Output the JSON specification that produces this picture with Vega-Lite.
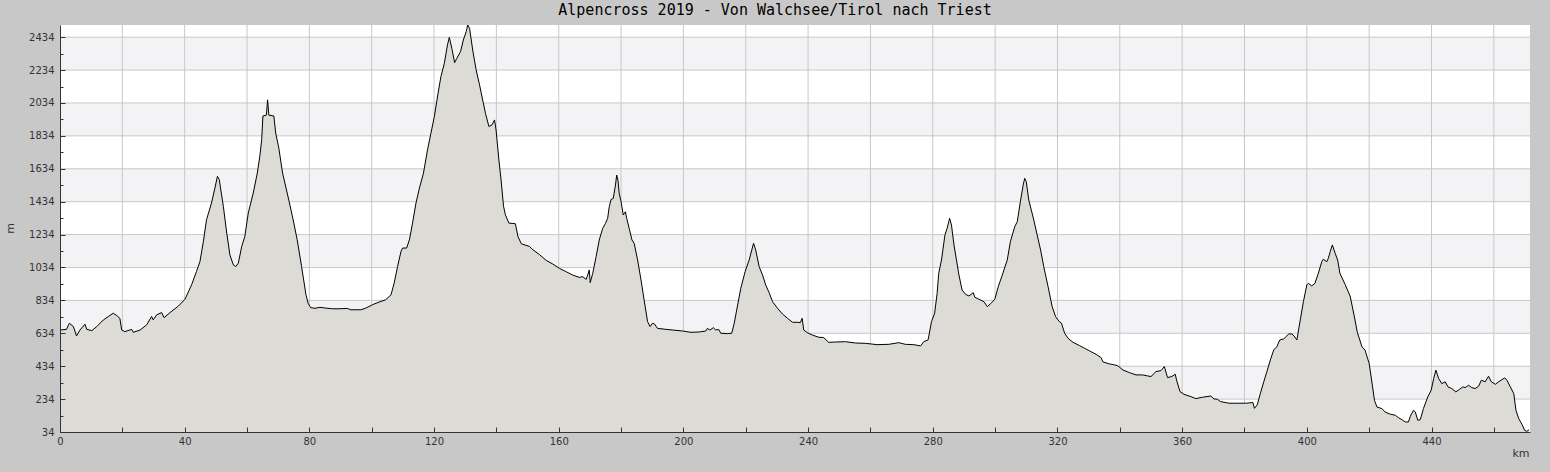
{
  "$schema": "https://vega.github.io/schema/vega-lite/v6.json",
  "width": 1470,
  "height": 407,
  "autosize": {"type": "none"},
  "padding": {"left": 60, "top": 25, "right": 20, "bottom": 40},
  "background": "#c8c8c8",
  "title": {
    "text": "Alpencross 2019 - Von Walchsee/Tirol nach Triest",
    "font": "DejaVu Sans Mono",
    "fontSize": 15,
    "fontWeight": "normal",
    "color": "#000",
    "offset": 5,
    "dx": -20
  },
  "config": {
    "view": {"fill": "white", "stroke": null},
    "axis": {
      "labelFont": "DejaVu Sans",
      "labelFontSize": 10,
      "labelColor": "#333",
      "labelOverlap": false,
      "labelFlush": false,
      "titleFont": "DejaVu Sans",
      "titleFontSize": 11,
      "titleFontWeight": "normal",
      "titleColor": "#333",
      "domainColor": "#333",
      "tickColor": "#333"
    }
  },
  "datasets": {
    "bands": [
      {"lo": 234, "hi": 434}, {"lo": 634, "hi": 834}, {"lo": 1034, "hi": 1234},
      {"lo": 1434, "hi": 1634}, {"lo": 1834, "hi": 2034}, {"lo": 2234, "hi": 2434}
    ],
    "vgrid": [
      {"km": 20}, {"km": 40}, {"km": 60}, {"km": 80}, {"km": 100}, {"km": 120},
      {"km": 140}, {"km": 160}, {"km": 180}, {"km": 200}, {"km": 220}, {"km": 240},
      {"km": 260}, {"km": 280}, {"km": 300}, {"km": 320}, {"km": 340}, {"km": 360},
      {"km": 380}, {"km": 400}, {"km": 420}, {"km": 440}, {"km": 460}
    ],
    "hgrid": [
      {"m": 234}, {"m": 434}, {"m": 634}, {"m": 834}, {"m": 1034}, {"m": 1234},
      {"m": 1434}, {"m": 1634}, {"m": 1834}, {"m": 2034}, {"m": 2234}, {"m": 2434}
    ],
    "profile": [
      {"km": 0, "m": 654}, {"km": 2.1, "m": 658}, {"km": 3, "m": 695}, {"km": 4.3, "m": 675},
      {"km": 5.3, "m": 618}, {"km": 6.4, "m": 654}, {"km": 8, "m": 689}, {"km": 8.6, "m": 658},
      {"km": 10.2, "m": 650}, {"km": 11.8, "m": 675}, {"km": 13.9, "m": 715}, {"km": 15.5, "m": 736},
      {"km": 17.1, "m": 756}, {"km": 18.2, "m": 742}, {"km": 19.2, "m": 725}, {"km": 19.8, "m": 654},
      {"km": 20.8, "m": 644}, {"km": 23, "m": 658}, {"km": 23.5, "m": 640}, {"km": 25.7, "m": 654},
      {"km": 27.8, "m": 685}, {"km": 29.4, "m": 736}, {"km": 29.9, "m": 715}, {"km": 31, "m": 746},
      {"km": 32.6, "m": 760}, {"km": 33.4, "m": 729}, {"km": 35.3, "m": 760}, {"km": 38, "m": 800},
      {"km": 40.1, "m": 841}, {"km": 42.2, "m": 928}, {"km": 43.8, "m": 1010}, {"km": 44.9, "m": 1070},
      {"km": 46, "m": 1192}, {"km": 47, "m": 1324}, {"km": 48.6, "m": 1426}, {"km": 49.7, "m": 1517},
      {"km": 50.5, "m": 1588}, {"km": 51.1, "m": 1568}, {"km": 51.5, "m": 1517}, {"km": 52.4, "m": 1406},
      {"km": 53.5, "m": 1243}, {"km": 54.5, "m": 1111}, {"km": 55.6, "m": 1050}, {"km": 56.4, "m": 1040},
      {"km": 57.2, "m": 1060}, {"km": 58.3, "m": 1162}, {"km": 59.3, "m": 1223}, {"km": 60.4, "m": 1365},
      {"km": 62, "m": 1487}, {"km": 63.3, "m": 1608}, {"km": 64.1, "m": 1710}, {"km": 64.7, "m": 1811},
      {"km": 65.1, "m": 1955}, {"km": 66.2, "m": 1960}, {"km": 66.6, "m": 2053}, {"km": 67, "m": 1960},
      {"km": 68.6, "m": 1955}, {"km": 69.2, "m": 1852}, {"km": 70.2, "m": 1760}, {"km": 71.4, "m": 1609},
      {"km": 73.5, "m": 1436}, {"km": 74.8, "m": 1324}, {"km": 76.1, "m": 1202}, {"km": 77.5, "m": 1040},
      {"km": 78.9, "m": 870}, {"km": 79.6, "m": 817}, {"km": 80.4, "m": 790}, {"km": 81.8, "m": 786},
      {"km": 83.4, "m": 792}, {"km": 85.3, "m": 787}, {"km": 87.4, "m": 783}, {"km": 89.5, "m": 783},
      {"km": 92.2, "m": 785}, {"km": 93.3, "m": 777}, {"km": 96.5, "m": 777}, {"km": 98.1, "m": 787},
      {"km": 100.3, "m": 808}, {"km": 102.4, "m": 824}, {"km": 104.5, "m": 838}, {"km": 106.2, "m": 868},
      {"km": 107.2, "m": 939}, {"km": 108.3, "m": 1040}, {"km": 109.4, "m": 1132}, {"km": 109.9, "m": 1152},
      {"km": 111.2, "m": 1152}, {"km": 112.1, "m": 1202}, {"km": 113.1, "m": 1304}, {"km": 114.2, "m": 1425},
      {"km": 115.3, "m": 1516}, {"km": 116.6, "m": 1607}, {"km": 117.9, "m": 1749}, {"km": 119, "m": 1850},
      {"km": 120.1, "m": 1951}, {"km": 121.2, "m": 2083}, {"km": 122.2, "m": 2194}, {"km": 123.3, "m": 2275},
      {"km": 124.3, "m": 2386}, {"km": 124.9, "m": 2433}, {"km": 125.7, "m": 2366}, {"km": 126.6, "m": 2279},
      {"km": 127.3, "m": 2305}, {"km": 128.5, "m": 2346}, {"km": 129.4, "m": 2417}, {"km": 130.3, "m": 2467},
      {"km": 130.8, "m": 2508}, {"km": 131.4, "m": 2488}, {"km": 132.4, "m": 2356}, {"km": 133.5, "m": 2235},
      {"km": 134.6, "m": 2144}, {"km": 135.6, "m": 2052}, {"km": 136.5, "m": 1971}, {"km": 137.6, "m": 1891},
      {"km": 138.6, "m": 1901}, {"km": 139.4, "m": 1931}, {"km": 139.9, "m": 1870}, {"km": 140.8, "m": 1688},
      {"km": 141.5, "m": 1567}, {"km": 142.3, "m": 1405}, {"km": 142.9, "m": 1354}, {"km": 144, "m": 1304},
      {"km": 146.1, "m": 1300}, {"km": 146.9, "m": 1223}, {"km": 148, "m": 1178}, {"km": 150.6, "m": 1162},
      {"km": 151.7, "m": 1142}, {"km": 153.9, "m": 1111}, {"km": 156, "m": 1077}, {"km": 158.1, "m": 1055},
      {"km": 160.2, "m": 1029}, {"km": 162.3, "m": 1009}, {"km": 164.5, "m": 988}, {"km": 166.6, "m": 974},
      {"km": 167.7, "m": 978}, {"km": 168.8, "m": 962}, {"km": 169.3, "m": 988}, {"km": 169.8, "m": 1019},
      {"km": 170.1, "m": 942}, {"km": 170.9, "m": 998}, {"km": 172, "m": 1100}, {"km": 173, "m": 1201},
      {"km": 174.1, "m": 1272}, {"km": 175, "m": 1302}, {"km": 175.7, "m": 1333}, {"km": 176.2, "m": 1403},
      {"km": 176.8, "m": 1448}, {"km": 177.5, "m": 1454}, {"km": 178.2, "m": 1535}, {"km": 178.6, "m": 1596},
      {"km": 179, "m": 1565}, {"km": 179.4, "m": 1485}, {"km": 180, "m": 1434}, {"km": 180.7, "m": 1353},
      {"km": 181.4, "m": 1373}, {"km": 181.8, "m": 1333}, {"km": 182.6, "m": 1272}, {"km": 183.5, "m": 1201},
      {"km": 184.2, "m": 1181}, {"km": 185.3, "m": 1080}, {"km": 186.4, "m": 958}, {"km": 187.4, "m": 836},
      {"km": 188.5, "m": 705}, {"km": 189.3, "m": 675}, {"km": 190.1, "m": 695}, {"km": 190.7, "m": 691},
      {"km": 191.7, "m": 664}, {"km": 194.4, "m": 658}, {"km": 196.5, "m": 654}, {"km": 199.7, "m": 648},
      {"km": 202.4, "m": 640}, {"km": 205.1, "m": 642}, {"km": 207.2, "m": 648}, {"km": 207.7, "m": 664},
      {"km": 208.5, "m": 654}, {"km": 209.6, "m": 668}, {"km": 210.4, "m": 654}, {"km": 211.3, "m": 658},
      {"km": 212, "m": 634}, {"km": 214.1, "m": 632}, {"km": 215.5, "m": 634}, {"km": 216.3, "m": 695},
      {"km": 217.4, "m": 806}, {"km": 218.4, "m": 907}, {"km": 219.8, "m": 1009}, {"km": 221.1, "m": 1080},
      {"km": 222.5, "m": 1181}, {"km": 223.2, "m": 1140}, {"km": 224.3, "m": 1039}, {"km": 225.4, "m": 988},
      {"km": 226.4, "m": 928}, {"km": 227.5, "m": 881}, {"km": 228.6, "m": 826}, {"km": 230.2, "m": 786},
      {"km": 231.8, "m": 751}, {"km": 233.4, "m": 725}, {"km": 235, "m": 701}, {"km": 236.5, "m": 701},
      {"km": 237.5, "m": 699}, {"km": 238.1, "m": 725}, {"km": 238.6, "m": 654}, {"km": 239.7, "m": 638},
      {"km": 241.3, "m": 624}, {"km": 243.4, "m": 610}, {"km": 245, "m": 608}, {"km": 246.6, "m": 579},
      {"km": 248.8, "m": 581}, {"km": 252, "m": 583}, {"km": 255.2, "m": 575}, {"km": 258.4, "m": 573},
      {"km": 262.1, "m": 565}, {"km": 265.9, "m": 567}, {"km": 269.1, "m": 577}, {"km": 271.2, "m": 567},
      {"km": 273.9, "m": 565}, {"km": 276.1, "m": 557}, {"km": 277.1, "m": 583}, {"km": 278.5, "m": 594},
      {"km": 279.6, "m": 705}, {"km": 280.6, "m": 756}, {"km": 281.4, "m": 877}, {"km": 281.9, "m": 998},
      {"km": 282.8, "m": 1080}, {"km": 283.9, "m": 1231}, {"km": 284.6, "m": 1272}, {"km": 285.4, "m": 1333},
      {"km": 286, "m": 1292}, {"km": 286.8, "m": 1171}, {"km": 287.6, "m": 1080}, {"km": 288.4, "m": 988},
      {"km": 289.4, "m": 897}, {"km": 290.5, "m": 871}, {"km": 291.6, "m": 861}, {"km": 293, "m": 881},
      {"km": 293.5, "m": 853}, {"km": 294.8, "m": 841}, {"km": 296.4, "m": 826}, {"km": 297.5, "m": 796},
      {"km": 298.9, "m": 820}, {"km": 299.9, "m": 841}, {"km": 301, "m": 917}, {"km": 302.3, "m": 988},
      {"km": 303.9, "m": 1080}, {"km": 304.9, "m": 1191}, {"km": 306.3, "m": 1282}, {"km": 307.1, "m": 1312},
      {"km": 308.1, "m": 1434}, {"km": 309, "m": 1535}, {"km": 309.5, "m": 1576}, {"km": 310, "m": 1555},
      {"km": 310.8, "m": 1444}, {"km": 312.4, "m": 1323}, {"km": 313.5, "m": 1231}, {"km": 314.6, "m": 1140},
      {"km": 315.6, "m": 1039}, {"km": 317, "m": 917}, {"km": 318.3, "m": 796}, {"km": 319.4, "m": 735},
      {"km": 320.6, "m": 705}, {"km": 321.3, "m": 695}, {"km": 322.3, "m": 634}, {"km": 323.4, "m": 604},
      {"km": 325, "m": 579}, {"km": 327.1, "m": 559}, {"km": 328.7, "m": 543}, {"km": 330.3, "m": 527},
      {"km": 332.4, "m": 506}, {"km": 334, "m": 486}, {"km": 334.6, "m": 460}, {"km": 336.7, "m": 448},
      {"km": 338.3, "m": 442}, {"km": 339.4, "m": 436}, {"km": 341, "m": 411}, {"km": 343.1, "m": 395},
      {"km": 345.2, "m": 381}, {"km": 347.3, "m": 381}, {"km": 348.9, "m": 375}, {"km": 350, "m": 371},
      {"km": 351.6, "m": 401}, {"km": 353.2, "m": 407}, {"km": 354.3, "m": 432}, {"km": 355.3, "m": 365},
      {"km": 356.7, "m": 371}, {"km": 357.8, "m": 385}, {"km": 358.2, "m": 350}, {"km": 359.3, "m": 280},
      {"km": 360.6, "m": 263}, {"km": 362.8, "m": 249}, {"km": 364.4, "m": 237}, {"km": 366.5, "m": 245},
      {"km": 369.2, "m": 253}, {"km": 370.2, "m": 235}, {"km": 371.3, "m": 233}, {"km": 372.3, "m": 219},
      {"km": 375, "m": 209}, {"km": 378.3, "m": 209}, {"km": 380.4, "m": 209}, {"km": 382.7, "m": 213},
      {"km": 383.2, "m": 178}, {"km": 384.1, "m": 199}, {"km": 385.1, "m": 269}, {"km": 386.2, "m": 340},
      {"km": 387.2, "m": 401}, {"km": 388.3, "m": 472}, {"km": 389.4, "m": 533}, {"km": 390.4, "m": 553},
      {"km": 391.3, "m": 593}, {"km": 392.6, "m": 600}, {"km": 394.2, "m": 630}, {"km": 395.2, "m": 630},
      {"km": 395.9, "m": 618}, {"km": 396.8, "m": 593}, {"km": 397.9, "m": 715}, {"km": 398.9, "m": 826},
      {"km": 400, "m": 928}, {"km": 400.5, "m": 938}, {"km": 401.6, "m": 922}, {"km": 402.6, "m": 938},
      {"km": 403.7, "m": 999}, {"km": 404.8, "m": 1069}, {"km": 405.3, "m": 1084}, {"km": 406.4, "m": 1069},
      {"km": 406.9, "m": 1090}, {"km": 407.5, "m": 1130}, {"km": 408.2, "m": 1171}, {"km": 409.1, "m": 1120},
      {"km": 409.9, "m": 1079}, {"km": 410.6, "m": 1000}, {"km": 412.3, "m": 930}, {"km": 413.9, "m": 860},
      {"km": 415.2, "m": 740}, {"km": 416.2, "m": 640}, {"km": 417.7, "m": 552}, {"km": 418.7, "m": 531},
      {"km": 420, "m": 450}, {"km": 421.1, "m": 308}, {"km": 421.7, "m": 227}, {"km": 422.5, "m": 186},
      {"km": 424.1, "m": 176}, {"km": 425.1, "m": 156}, {"km": 426.8, "m": 142}, {"km": 428.4, "m": 136},
      {"km": 429.4, "m": 121}, {"km": 430.5, "m": 109}, {"km": 431.6, "m": 95}, {"km": 432.6, "m": 95},
      {"km": 433.2, "m": 129}, {"km": 434.2, "m": 166}, {"km": 434.8, "m": 156}, {"km": 435.6, "m": 105},
      {"km": 436.4, "m": 109}, {"km": 437.4, "m": 176}, {"km": 438.8, "m": 247}, {"km": 439.9, "m": 288},
      {"km": 440.7, "m": 359}, {"km": 441.4, "m": 410}, {"km": 442.3, "m": 359}, {"km": 443.3, "m": 328},
      {"km": 444.4, "m": 339}, {"km": 445.3, "m": 308}, {"km": 446.5, "m": 298}, {"km": 447.8, "m": 278},
      {"km": 448.9, "m": 292}, {"km": 450, "m": 308}, {"km": 450.8, "m": 304}, {"km": 451.9, "m": 318},
      {"km": 452.9, "m": 304}, {"km": 454, "m": 298}, {"km": 455.1, "m": 312}, {"km": 456, "m": 349},
      {"km": 457.2, "m": 339}, {"km": 458.3, "m": 373}, {"km": 459.2, "m": 339}, {"km": 460.5, "m": 324},
      {"km": 461.5, "m": 339}, {"km": 463.5, "m": 363}, {"km": 464.2, "m": 349}, {"km": 465.3, "m": 308},
      {"km": 466.4, "m": 267}, {"km": 467.1, "m": 166}, {"km": 468, "m": 115}, {"km": 469, "m": 81},
      {"km": 469.9, "m": 44}, {"km": 470.6, "m": 38}, {"km": 471.3, "m": 48}
    ]
  },
  "resolve": {"axis": {"y": "independent"}},
  "layer": [
    {
      "data": {"name": "bands"},
      "mark": {"type": "rect", "color": "#f3f2f5"},
      "encoding": {
        "y": {"field": "lo", "type": "quantitative", "axis": null},
        "y2": {"field": "hi"}
      }
    },
    {
      "data": {"name": "vgrid"},
      "mark": {"type": "rule", "color": "#c8c8c8", "strokeWidth": 1},
      "encoding": {
        "x": {"field": "km", "type": "quantitative", "title": "km"}
      }
    },
    {
      "data": {"name": "hgrid"},
      "mark": {"type": "rule", "color": "#c8c8c8", "strokeWidth": 1},
      "encoding": {
        "y": {
          "field": "m",
          "type": "quantitative",
          "axis": {
            "orient": "left",
            "values": [134, 334, 534, 734, 934, 1134, 1334, 1534, 1734, 1934, 2134, 2334],
            "labels": false,
            "domain": false,
            "grid": false,
            "tickSize": -3,
            "title": null,
            "zindex": 1
          }
        }
      }
    },
    {
      "data": {"name": "profile"},
      "mark": {
        "type": "area",
        "color": "#dcdbd5",
        "opacity": 1,
        "fillOpacity": 1,
        "line": {"color": "#000", "strokeWidth": 1}
      },
      "encoding": {
        "x": {
          "field": "km",
          "type": "quantitative",
          "title": "km",
          "scale": {"domain": [0, 471.6], "nice": false, "zero": false},
          "axis": {
            "values": [0, 10, 20, 30, 40, 50, 60, 70, 80, 90, 100, 110, 120, 130, 140, 150, 160, 170, 180, 190, 200, 210, 220, 230, 240, 250, 260, 270, 280, 290, 300, 310, 320, 330, 340, 350, 360, 370, 380, 390, 400, 410, 420, 430, 440, 450, 460],
            "format": "d",
            "labelExpr": "datum.value % 40 === 0 ? datum.label : ''",
            "grid": false,
            "tickSize": -5,
            "labelPadding": 9,
            "labelFlush": false,
            "labelOverlap": false,
            "zindex": 1,
            "titleX": 1469,
            "titleY": 15,
            "titleAlign": "right",
            "titleBaseline": "top"
          }
        },
        "y": {
          "field": "m",
          "type": "quantitative",
          "title": "m",
          "scale": {"domain": [34, 2508], "nice": false, "zero": false},
          "axis": {
            "orient": "left",
            "values": [34, 234, 434, 634, 834, 1034, 1234, 1434, 1634, 1834, 2034, 2234, 2434],
            "format": "d",
            "grid": false,
            "tickSize": -5,
            "labelPadding": 11,
            "labelOverlap": false,
            "zindex": 1,
            "titleX": -50,
            "titleY": 203,
            "titleAngle": -90,
            "titleAlign": "center",
            "titleBaseline": "middle"
          }
        },
        "y2": {"datum": 34}
      }
    }
  ]
}
